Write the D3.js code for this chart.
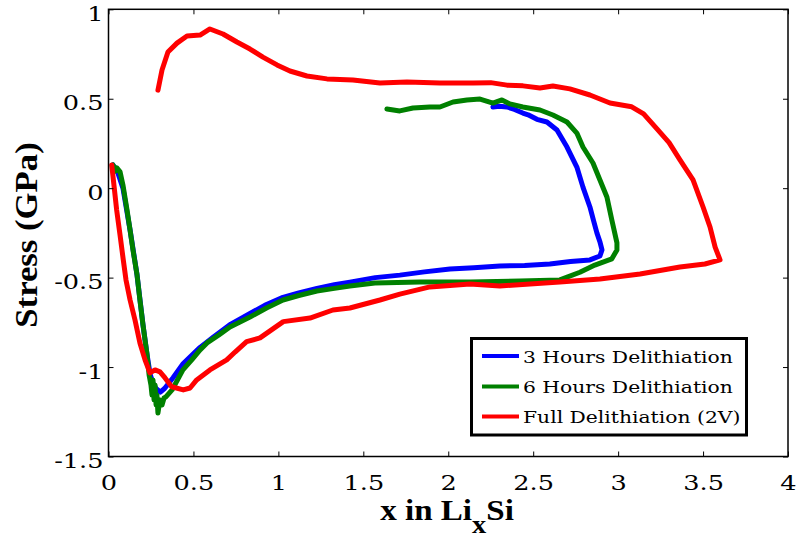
<!DOCTYPE html>
<html>
<head>
<meta charset="utf-8">
<script src="https://cdn.jsdelivr.net/npm/d3@7/dist/d3.min.js"></script>
<style>
  body { margin: 0; background: #fff; }
  svg { display: block; }
</style>
</head>
<body>
<svg id="chart" width="797" height="541"></svg>
<script>
// Stress vs. lithium content (x in LixSi) for three delithiation protocols
const seriesNames = ["3 Hours Delithiation", "6 Hours Delithiation", "Full Delithiation (2V)"];
const seriesColors = ["#0000ff", "#008000", "#ff0000"];

// [x, stress in GPa]
const threeHours = [
  [0.026,0.130],[0.050,0.100],[0.085,0.000],[0.127,-0.234],[0.168,-0.485],[0.203,-0.764],
  [0.227,-0.930],[0.245,-1.040],[0.262,-1.090],[0.280,-1.120],[0.305,-1.140],[0.330,-1.120],
  [0.380,-1.060],[0.440,-0.980],[0.539,-0.890],[0.620,-0.830],[0.720,-0.760],[0.833,-0.700],
  [0.930,-0.650],[1.027,-0.610],[1.120,-0.585],[1.227,-0.560],[1.330,-0.540],[1.421,-0.525],
  [1.570,-0.500],[1.715,-0.486],[1.860,-0.468],[2.010,-0.452],[2.150,-0.445],[2.304,-0.435],
  [2.450,-0.432],[2.598,-0.424],[2.720,-0.410],[2.834,-0.401],[2.893,-0.379],
  [2.905,-0.345],[2.893,-0.300],[2.875,-0.250],[2.855,-0.180],[2.834,-0.105],[2.793,0.006],
  [2.757,0.118],[2.699,0.230],[2.640,0.325],[2.581,0.370],[2.522,0.385],[2.470,0.410],
  [2.439,0.420],[2.390,0.440],[2.346,0.454],[2.300,0.458],[2.263,0.454]
];

const sixHours = [
  [0.026,0.130],[0.040,0.095],[0.050,0.113],[0.068,0.091],[0.085,0.018],[0.109,-0.122],
  [0.127,-0.234],[0.144,-0.345],[0.168,-0.485],[0.185,-0.625],[0.203,-0.764],[0.227,-0.932],
  [0.239,-1.044],[0.250,-1.100],[0.256,-1.156],[0.262,-1.072],[0.268,-1.184],[0.274,-1.100],
  [0.280,-1.212],[0.285,-1.156],[0.291,-1.257],[0.303,-1.184],[0.315,-1.212],[0.327,-1.173],
  [0.338,-1.167],[0.374,-1.128],[0.438,-1.016],[0.490,-0.960],[0.539,-0.904],[0.580,-0.865],
  [0.650,-0.820],[0.715,-0.776],[0.833,-0.720],[0.930,-0.670],[1.027,-0.625],[1.120,-0.600],
  [1.227,-0.575],[1.330,-0.560],[1.421,-0.547],[1.568,-0.530],[1.833,-0.524],[2.128,-0.524],
  [2.422,-0.519],[2.657,-0.513],[2.775,-0.470],[2.863,-0.430],[2.963,-0.395],
  [2.993,-0.345],[2.993,-0.306],[2.963,-0.178],[2.934,-0.049],[2.893,0.046],[2.852,0.141],
  [2.793,0.230],[2.757,0.308],[2.699,0.370],[2.616,0.409],[2.540,0.437],[2.439,0.454],
  [2.363,0.471],[2.316,0.493],[2.263,0.476],[2.187,0.498],[2.110,0.493],[2.028,0.482],
  [1.951,0.454],[1.892,0.454],[1.792,0.448],[1.715,0.432],[1.639,0.443]
];

const fullDelith = [
  [0.019,0.130],[0.032,0.018],[0.048,-0.122],[0.068,-0.262],[0.087,-0.401],[0.103,-0.513],
  [0.127,-0.625],[0.156,-0.737],[0.185,-0.865],[0.215,-0.960],[0.244,-1.033],[0.274,-1.016],
  [0.303,-1.027],[0.333,-1.061],[0.372,-1.110],[0.440,-1.128],[0.480,-1.117],[0.519,-1.072],
  [0.597,-1.016],[0.696,-0.960],[0.745,-0.916],[0.813,-0.858],[0.892,-0.837],[1.029,-0.746],
  [1.186,-0.726],[1.321,-0.681],[1.421,-0.670],[1.598,-0.625],[1.715,-0.592],[1.892,-0.552],
  [2.128,-0.536],[2.304,-0.547],[2.481,-0.536],[2.657,-0.524],[2.893,-0.508],[3.129,-0.480],
  [3.364,-0.441],[3.511,-0.424],[3.600,-0.401],
  [3.571,-0.329],[3.541,-0.217],[3.500,-0.105],[3.441,0.046],[3.364,0.158],[3.300,0.255],
  [3.230,0.330],[3.150,0.415],[3.080,0.455],[2.952,0.476],[2.834,0.521],[2.716,0.555],
  [2.616,0.571],[2.540,0.560],[2.440,0.572],[2.346,0.576],[2.250,0.590],[2.146,0.588],
  [1.951,0.588],[1.757,0.593],[1.598,0.588],[1.439,0.605],[1.286,0.611],[1.168,0.627],
  [1.068,0.655],[0.992,0.689],[0.909,0.733],[0.833,0.778],[0.756,0.817],[0.674,0.862],
  [0.597,0.890],[0.539,0.856],[0.462,0.851],[0.403,0.811],[0.350,0.761],[0.315,0.661],
  [0.291,0.548]
];

const allSeries = [threeHours, sixHours, fullDelith];

const xTicks = [0, 0.5, 1, 1.5, 2, 2.5, 3, 3.5, 4];
const xTickLabels = ["0", "0.5", "1", "1.5", "2", "2.5", "3", "3.5", "4"];
const yTicks = [-1.5, -1, -0.5, 0, 0.5, 1];
const yTickLabels = ["-1.5", "-1", "-0.5", "0", "0.5", "1"];

const svg = d3.select("#chart");
const L = 108.5, R = 788, T = 9.3, B = 456.5;
const x = d3.scaleLinear().domain([0, 4]).range([L, R]);
const y = d3.scaleLinear().domain([-1.5, 1]).range([B, T]);

const serif = "'DejaVu Serif', 'Liberation Serif', serif";
const stretch = 1.22;

// Curves
const line = d3.line().x(d => x(d[0])).y(d => y(d[1]));
svg.append("g").selectAll("path").data(allSeries).join("path")
  .attr("d", line)
  .attr("fill", "none")
  .attr("stroke", (d, i) => seriesColors[i])
  .attr("stroke-width", 5)
  .attr("stroke-linejoin", "round")
  .attr("stroke-linecap", "round");

// Inward ticks on all four sides
const tickLen = 5;
function ticksOnly(axis, ty) {
  const g = svg.append("g").attr("transform", ty).call(axis);
  g.select(".domain").remove();
  g.selectAll(".tick line").attr("stroke", "#000").attr("stroke-width", 1);
  return g;
}
const gBottom = ticksOnly(d3.axisBottom(x).tickValues(xTicks).tickSizeInner(-tickLen).tickSizeOuter(0)
  .tickFormat((d, i) => xTickLabels[i]), `translate(0,${B})`);
ticksOnly(d3.axisTop(x).tickValues(xTicks).tickSizeInner(-tickLen).tickSizeOuter(0).tickFormat(""), `translate(0,${T})`);
const gLeft = ticksOnly(d3.axisLeft(y).tickValues(yTicks).tickSizeInner(-tickLen).tickSizeOuter(0)
  .tickFormat((d, i) => yTickLabels[i]), `translate(${L},0)`);
ticksOnly(d3.axisRight(y).tickValues(yTicks).tickSizeInner(-tickLen).tickSizeOuter(0).tickFormat(""), `translate(${R},0)`);

gBottom.selectAll(".tick text")
  .attr("x", null).attr("y", null).attr("dy", null)
  .attr("transform", "translate(0,33) scale(" + stretch + ",1)")
  .attr("text-anchor", "middle")
  .style("font-family", serif).style("font-size", "21px").attr("fill", "#000");
gLeft.selectAll(".tick text")
  .attr("x", null).attr("y", null).attr("dy", null)
  .attr("transform", "translate(-5,11) scale(" + stretch + ",1)")
  .attr("text-anchor", "end")
  .style("font-family", serif).style("font-size", "21px").attr("fill", "#000");

// Plot frame
svg.append("rect")
  .attr("x", L).attr("y", T).attr("width", R - L).attr("height", B - T)
  .attr("fill", "none").attr("stroke", "#000").attr("stroke-width", 1.5);

// Axis titles
svg.append("text")
  .attr("transform", "translate(37,235) rotate(-90) scale(1.12,1)")
  .attr("text-anchor", "middle")
  .style("font-family", "'Liberation Serif', serif").style("font-weight", "bold").style("font-size", "31px")
  .text("Stress (GPa)");

const xTitle = svg.append("text")
  .attr("transform", "translate(447,520) scale(1.14,1)")
  .attr("text-anchor", "middle")
  .style("font-family", "'Liberation Serif', serif").style("font-weight", "bold").style("font-size", "29px");
xTitle.append("tspan").text("x in Li");
xTitle.append("tspan").attr("dy", 13).style("font-size", "25px").text("x");
xTitle.append("tspan").attr("dy", -13).text("Si");

// Legend
const lg = svg.append("g");
lg.append("rect")
  .attr("x", 471.5).attr("y", 338.5).attr("width", 275).attr("height", 96.5)
  .attr("fill", "#fff").attr("stroke", "#000").attr("stroke-width", 3);
const rowY = [356, 386.5, 416.5];
seriesNames.forEach((name, i) => {
  lg.append("line")
    .attr("x1", 482).attr("x2", 519).attr("y1", rowY[i]).attr("y2", rowY[i])
    .attr("stroke", seriesColors[i]).attr("stroke-width", 4);
  lg.append("text")
    .attr("transform", `translate(523,${rowY[i] + 6.5}) scale(1.16,1)`)
    .style("font-family", serif).style("font-size", "17.5px")
    .text(name);
});
</script>
</body>
</html>
